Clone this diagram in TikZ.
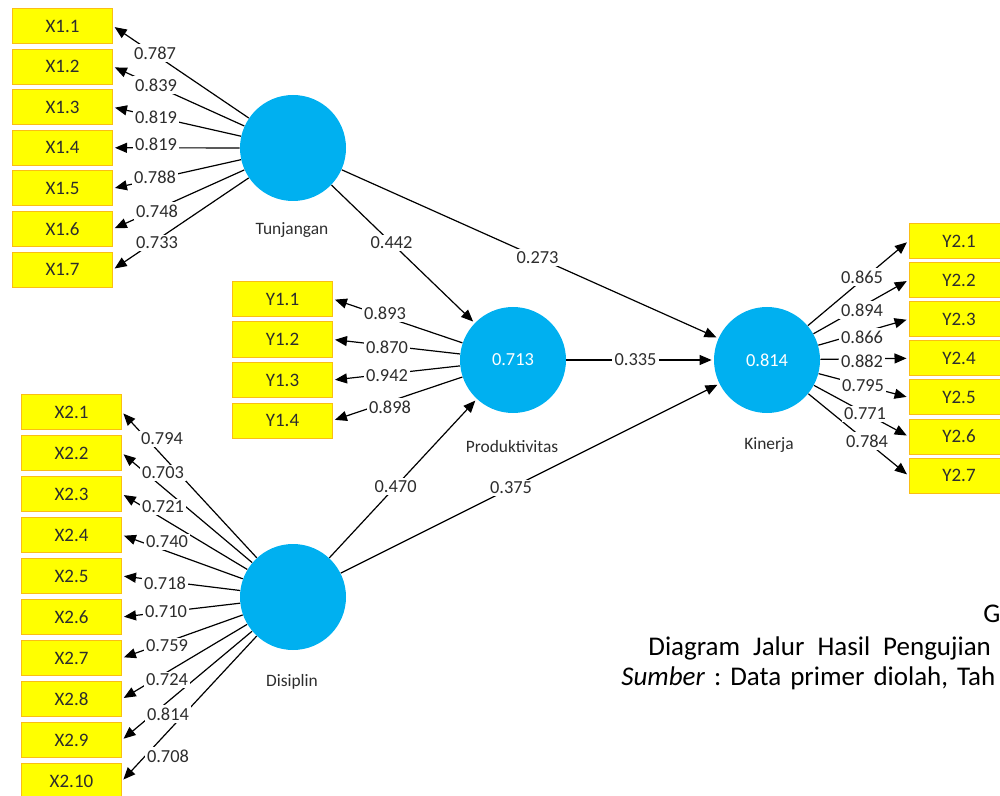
\documentclass[tikz,border=0pt]{standalone}
\usepackage{fontspec}
\setmainfont{Carlito}
\usetikzlibrary{arrows.meta}

\definecolor{plsblue}{RGB}{0,176,240}
\definecolor{plsyellow}{RGB}{255,255,0}
\definecolor{plsedge}{RGB}{250,190,20}
\definecolor{plstext}{RGB}{45,45,45}

\newcommand*\boxwidth{50pt}
\newcommand*\boxheight{17.5pt}
\newcommand*\titlegap{\hspace{6.5pt}}
\newcommand*\sourcegap{\hspace{4.5pt}}
\tikzset{
    indicator/.style={
        draw=plsedge,
        line width=0.5pt,
        fill=plsyellow,
        rectangle,
        inner sep=0pt,
        minimum width=\boxwidth,
        minimum height=\boxheight,
        text=plstext,
        font=\fontsize{9.5}{10}\selectfont
    },
    construct/.style={
        circle,
        fill=plsblue,
        inner sep=0pt,
        minimum size=53pt,
        text=white,
        font=\fontsize{9.2}{10}\selectfont
    },
    conname/.style={text=plstext, font=\fontsize{8.7}{10}\selectfont},
    loading/.style={fill=white, inner sep=1.2pt, text=plstext,
        font=\fontsize{9.2}{10}\selectfont},
    link/.style={draw, line width=0.6pt, shorten >=1pt,
        -{Triangle[length=6pt,width=5pt]}},
    caption/.style={anchor=base west, inner sep=0pt,
        font=\fontsize{13.5}{16}\selectfont}
}

\begin{document}
\begin{tikzpicture}[x=0.5pt,y=-0.5pt]

    \useasboundingbox (0,0) rectangle (1000,796);
    \clip (0,0) rectangle (1000,796);

    % The four latent variables.
    \node[construct] (tunj) at (293,148) {};
    \node[construct] (disp) at (293,597) {};
    \node[construct] (prod) at (513,360) {0.713};
    \node[construct] (kin)  at (767,360) {0.814};

    \node[conname] (tunjname) at (292,230) {Tunjangan};
    \node[conname] (dispname) at (292,682) {Disiplin};
    \node[conname] (prodname) at (512,447) {Produktivitas};
    \node[conname] (kinname)  at (769,445) {Kinerja};

    % Indicator boxes, one column per latent variable.
    \foreach \i in {1,...,7}
        \node[indicator] (x1-\i) at (62.5,{26+40.6*(\i-1)}) {X1.\i};
    \foreach \i in {1,...,4}
        \node[indicator] (y1-\i) at (282.5,{299+40.5*(\i-1)}) {Y1.\i};
    \foreach \i in {1,...,10}
        \node[indicator] (x2-\i) at (71.5,{412+41*(\i-1)}) {X2.\i};
    \foreach \i in {1,...,7}
        \node[indicator] (y2-\i) at (959,{241+39.1*(\i-1)}) {Y2.\i};

    % Outer loadings: arrows from the circles to the boxes.
    \foreach \i in {1,...,7}
        \draw[link] (tunj) -- (x1-\i.east);
    \foreach \i in {1,...,4}
        \draw[link] (prod) -- (y1-\i.east);
    \foreach \i in {1,...,10}
        \draw[link] (disp) -- (x2-\i.east);
    \foreach \i in {1,...,7}
        \draw[link] (kin) -- (y2-\i.west);

    % Inner model.
    \draw[link] (tunj) -- node[loading, pos=0.42] (p-tp) {0.442} (prod);
    \draw[link] (tunj) -- node[loading, pos=0.52] (p-tk) {0.273} (kin);
    \draw[link] (prod) -- node[loading, pos=0.47] (p-pk) {0.335} (kin);
    \draw[link] (disp) -- node[loading, pos=0.45] (p-dp) {0.470} (prod);
    \draw[link] (disp) -- node[loading, pos=0.45] (p-dk) {0.375} (kin);

    % Loading values, on top of the lines.
    \foreach \i/\val/\lx/\ly in {1/0.787/155/53,2/0.839/156/85,3/0.819/156/117,
            4/0.819/156/144,5/0.788/155/177,6/0.748/157/211,7/0.733/157/243}
        \node[loading] (l-x1-\i) at (\lx,\ly) {\val};
    \foreach \i/\val/\lx/\ly in {1/0.893/385/313,2/0.870/387/347,
            3/0.942/387/376,4/0.898/390/407}
        \node[loading] (l-y1-\i) at (\lx,\ly) {\val};
    \foreach \i/\val/\lx/\ly in {1/0.794/162/439,2/0.703/163/473,3/0.721/163/507,
            4/0.740/167/542,5/0.718/165/583,6/0.710/166/612,7/0.759/167/646,
            8/0.724/167/680,9/0.814/168/714,10/0.708/168/756}
        \node[loading] (l-x2-\i) at (\lx,\ly) {\val};
    \foreach \i/\val/\lx/\ly in {1/0.865/862/277,2/0.894/862/310,3/0.866/862/337,
            4/0.882/862/361,5/0.795/863/386,6/0.771/865/414,7/0.784/867/441}
        \node[loading] (l-y2-\i) at (\lx,\ly) {\val};

    % Caption, at the right edge.
    \node[caption] (capG) at (983,622) {G};
    \node[caption] (captitle) at (648,655)
        {Diagram\titlegap Jalur\titlegap Hasil\titlegap Pengujian};
    \node[caption] (capsource) at (621,685)
        {\textit{Sumber}\sourcegap:\sourcegap Data\sourcegap primer\sourcegap
         diolah,\sourcegap Tah};

\end{tikzpicture}
\end{document}
